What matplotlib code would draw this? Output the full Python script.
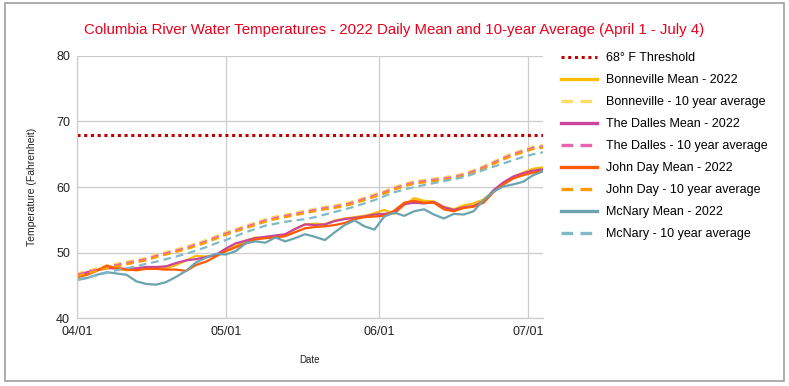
import matplotlib
matplotlib.use("Agg")
import matplotlib.pyplot as plt
import matplotlib.dates as mdates
import pandas as pd
from matplotlib.patches import Rectangle

plt.rcParams["font.family"] = ["Liberation Sans", "DejaVu Sans"]

# ── Data (every 2nd day, Apr 1 – Jul 4 2022, °F) ─────────────
dates = pd.date_range("2022-04-01", "2022-07-04", freq="2D")

bonneville_mean = [46.5, 46.9, 47.4, 47.8, 47.5, 47.3, 47.4, 47.6, 47.7, 47.6, 48.1, 48.8,
                   49.5, 49.4, 49.6, 50.4, 51.0, 51.8, 52.3, 52.2, 52.5, 52.6, 53.6, 54.3,
                   54.4, 54.3, 54.9, 55.2, 55.4, 55.6, 56.0, 56.5, 55.9, 57.2, 58.3, 57.9,
                   57.8, 57.0, 56.6, 57.2, 57.5, 58.1, 59.3, 60.6, 61.5, 62.2, 62.8, 63.0]
bonneville_avg = [46.8, 47.2, 47.6, 48.0, 48.3, 48.6, 48.9, 49.2, 49.7, 50.1, 50.5, 50.9,
                  51.4, 51.9, 52.5, 53.1, 53.6, 54.1, 54.6, 55.1, 55.5, 55.8, 56.1, 56.4,
                  56.7, 57.0, 57.2, 57.5, 57.9, 58.4, 58.9, 59.4, 60.0, 60.5, 60.9, 61.1,
                  61.3, 61.5, 61.7, 62.1, 62.6, 63.2, 63.9, 64.6, 65.2, 65.7, 66.2, 66.4]
dalles_mean = [46.4, 47.0, 47.3, 47.6, 47.6, 47.5, 47.6, 47.8, 47.8, 47.9, 48.4, 48.8,
               49.0, 49.3, 49.6, 50.6, 51.4, 51.8, 52.2, 52.4, 52.6, 52.8, 53.6, 54.3,
               54.2, 54.3, 54.8, 55.1, 55.3, 55.5, 55.8, 55.9, 56.1, 57.4, 57.6, 57.5,
               57.7, 56.9, 56.5, 56.9, 57.1, 57.8, 59.5, 60.7, 61.6, 62.1, 62.5, 62.7]
dalles_avg = [46.6, 47.0, 47.4, 47.8, 48.1, 48.4, 48.7, 49.0, 49.5, 49.9, 50.3, 50.7,
              51.2, 51.7, 52.3, 52.9, 53.4, 53.9, 54.4, 54.9, 55.3, 55.6, 55.9, 56.2,
              56.5, 56.8, 57.0, 57.3, 57.7, 58.2, 58.7, 59.2, 59.8, 60.3, 60.7, 60.9,
              61.1, 61.3, 61.5, 61.9, 62.4, 63.0, 63.7, 64.4, 65.0, 65.5, 66.0, 66.2]
johnday_mean = [46.2, 46.6, 47.2, 48.0, 47.6, 47.4, 47.3, 47.5, 47.5, 47.4, 47.4, 47.2,
                48.1, 48.6, 49.4, 50.2, 50.8, 51.4, 52.0, 52.2, 52.3, 52.5, 53.1, 53.7,
                53.9, 54.0, 54.2, 54.5, 55.1, 55.4, 55.5, 55.6, 56.4, 57.6, 57.9, 57.6,
                57.6, 56.6, 56.3, 56.8, 57.0, 57.6, 59.2, 60.4, 61.3, 61.8, 62.2, 62.4]
johnday_avg = [46.4, 46.8, 47.2, 47.6, 47.9, 48.2, 48.5, 48.8, 49.3, 49.7, 50.1, 50.5,
               51.0, 51.5, 52.1, 52.7, 53.2, 53.7, 54.2, 54.7, 55.1, 55.4, 55.7, 56.0,
               56.3, 56.6, 56.8, 57.1, 57.5, 58.0, 58.5, 59.0, 59.6, 60.1, 60.5, 60.7,
               60.9, 61.1, 61.3, 61.7, 62.2, 62.8, 63.5, 64.2, 64.8, 65.3, 65.8, 66.0]
mcnary_mean = [45.8, 46.1, 46.6, 47.0, 46.8, 46.6, 45.6, 45.2, 45.1, 45.5, 46.3, 47.2,
               48.5, 49.2, 49.8, 49.7, 50.2, 51.4, 51.7, 51.5, 52.3, 51.7, 52.2, 52.8,
               52.4, 51.9, 53.1, 54.2, 54.9, 54.0, 53.5, 55.5, 56.1, 55.6, 56.3, 56.6,
               55.8, 55.2, 55.9, 55.8, 56.3, 58.0, 59.3, 60.1, 60.4, 60.8, 61.8, 62.4]
mcnary_avg = [45.9, 46.2, 46.5, 46.9, 47.3, 47.6, 47.9, 48.3, 48.6, 49.0, 49.4, 49.8,
              50.3, 50.8, 51.4, 51.9, 52.5, 53.1, 53.6, 54.1, 54.4, 54.7, 54.9, 55.1,
              55.4, 55.8, 56.2, 56.6, 57.0, 57.5, 58.0, 58.6, 59.2, 59.6, 60.0, 60.3,
              60.6, 60.9, 61.2, 61.5, 62.0, 62.6, 63.1, 63.6, 64.1, 64.6, 65.0, 65.3]
threshold = 68

SERIES = [
    ("Bonneville Mean - 2022",        bonneville_mean, "#FBBC04", "-"),
    ("Bonneville - 10 year average",  bonneville_avg,  "#FDDC6A", "--"),
    ("The Dalles Mean - 2022",        dalles_mean,     "#C9449A", "-"),
    ("The Dalles - 10 year average",  dalles_avg,      "#E864B0", "--"),
    ("John Day Mean - 2022",          johnday_mean,    "#FF5A00", "-"),
    ("John Day - 10 year average",    johnday_avg,     "#FF9A00", "--"),
    ("McNary Mean - 2022",            mcnary_mean,     "#6BA3AE", "-"),
    ("McNary - 10 year average",      mcnary_avg,      "#80BAC6", "--"),
]

# ── Figure ───────────────────────────────────────────────────
fig = plt.figure(figsize=(7.89, 3.86), dpi=100)
ax = fig.add_axes([0.0976, 0.176, 0.5906, 0.679])

ax.axhline(threshold, color="#C00000", linewidth=2.2, dashes=(1, 1.2),
           label="68° F Threshold")
for label, vals, color, ls in SERIES:
    if ls == "--":
        ax.plot(dates, vals, color=color, linewidth=1.6, dashes=(3.5, 2.2), label=label)
    else:
        ax.plot(dates, vals, color=color, linewidth=1.6, label=label)

ax.set_ylim(40, 80)
ax.set_yticks([40, 50, 60, 70, 80])
ax.set_xlim(pd.Timestamp("2022-04-01"), pd.Timestamp("2022-07-04"))
ax.set_xticks(pd.to_datetime(["2022-04-01", "2022-05-01", "2022-06-01", "2022-07-01"]))
ax.xaxis.set_major_formatter(mdates.DateFormatter("%m/%d"))
ax.tick_params(length=0, labelsize=9, colors="#222222")
ax.tick_params(axis="x", pad=6)
ax.tick_params(axis="y", pad=5)
ax.grid(True, color="#CCCCCC", linewidth=0.9)
ax.set_axisbelow(True)
for s in ["top", "right"]:
    ax.spines[s].set_visible(False)
for s in ["left", "bottom"]:
    ax.spines[s].set_color("#CCCCCC")
    ax.spines[s].set_linewidth(0.9)

ax.set_xlabel("Date", fontsize=7, color="#222222", labelpad=12)
ax.set_ylabel("Temperature (Fahrenheit)", fontsize=7.5, color="#222222", labelpad=14)

fig.suptitle("Columbia River Water Temperatures - 2022 Daily Mean and 10-year Average (April 1 - July 4)",
             x=0.5, y=0.94, fontsize=10.8, color="#E8001C")

leg = fig.legend(loc="upper left", bbox_to_anchor=(0.705, 0.878), frameon=False,
                 fontsize=9, handlelength=2.9, labelspacing=0.8, handletextpad=0.7,
                 borderaxespad=0)
for h in leg.get_lines()[1:]:
    h.set_linewidth(2.4)

fig.patches.append(Rectangle((0.006, 0.013), 0.988, 0.978, transform=fig.transFigure,
                             fill=False, edgecolor="#9E9E9E", linewidth=1.2))

plt.savefig("out.png", dpi=100, facecolor="white")
